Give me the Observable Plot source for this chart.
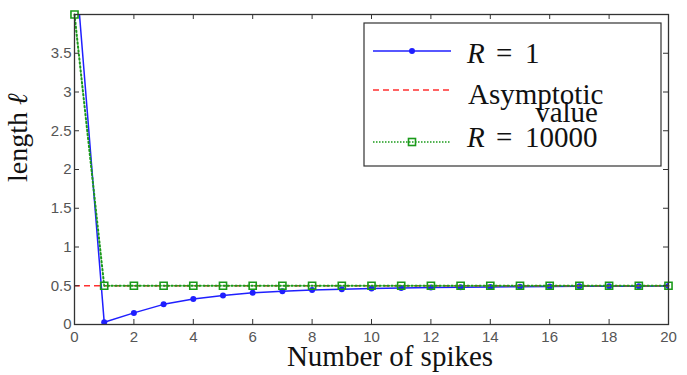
<!DOCTYPE html>
<html><head><meta charset="utf-8">
<script src="https://cdn.jsdelivr.net/npm/d3@7"></script>
<script src="https://cdn.jsdelivr.net/npm/@observablehq/plot@0.6"></script>
<style>
body{margin:0;background:#fff}
#wrap{position:relative;width:687px;height:375px}
</style></head><body><div id="wrap"></div>
<script>
// ---- data ----
const spikes = [0,1,2,3,4,5,6,7,8,9,10,11,12,13,14,15,16,17,18,19,20];
const lengthR1 = [4.8,0.03,0.15,0.26,0.33,0.375,0.41,0.43,0.445,0.455,0.465,0.472,0.478,0.482,0.485,0.488,0.49,0.492,0.494,0.495,0.496];
const lengthR10000 = [4,0.5,0.5,0.5,0.5,0.5,0.5,0.5,0.5,0.5,0.5,0.5,0.5,0.5,0.5,0.5,0.5,0.5,0.5,0.5,0.5];
const asymptote = [0.5];
const xTicks = [0,2,4,6,8,10,12,14,16,18,20];
const yTicks = [0,0.5,1,1.5,2,2.5,3,3.5];
const yTickMarks = [0,0.5,1,1.5,2,2.5,3,3.5,4];

// ---- layout ----
const W = 687, H = 375, mL = 74, mR = 19, mT = 14, mB = 51;
const innerW = W - mL - mR, innerH = H - mT - mB;
const blue = "#1f1fff", red = "#ff3030", green = "#1a9a1a";

const r1 = spikes.map((x, i) => ({x, y: lengthR1[i]}));
const r2 = spikes.map((x, i) => ({x, y: lengthR10000[i]}));
const fmt = d => String(d);

const plot = Plot.plot({
  width: W, height: H,
  marginLeft: mL, marginRight: mR, marginTop: mT, marginBottom: mB,
  x: {domain: [0, 20]},
  y: {domain: [0, 4]},
  style: {fontFamily: "'Liberation Sans', Arial, sans-serif", fontSize: "15px", color: "#555", background: "#fff"},
  marks: [
    Plot.line(r1, {x: "x", y: "y", stroke: blue, strokeWidth: 1.5, clip: true}),
    Plot.dot(r1, {x: "x", y: "y", r: 3, fill: blue, clip: true}),
    Plot.ruleY(asymptote, {stroke: red, strokeWidth: 1.3, strokeDasharray: "6,4"}),
    Plot.line(r2, {x: "x", y: "y", stroke: green, strokeWidth: 2, strokeDasharray: "1.5,2.5"}),
    Plot.dot(r2, {x: "x", y: "y", symbol: "square", r: 4, stroke: green, strokeWidth: 1.6, fill: "none"}),
    Plot.tickX(xTicks, {x: d => d, insetTop: innerH - 5, stroke: "#333"}),
    Plot.tickX(xTicks, {x: d => d, insetBottom: innerH - 5, stroke: "#333"}),
    Plot.tickY(yTickMarks, {y: d => d, insetRight: innerW - 5, stroke: "#333"}),
    Plot.tickY(yTickMarks, {y: d => d, insetLeft: innerW - 5, stroke: "#333"}),
    Plot.axisX(xTicks, {tickSize: 0, tickPadding: 7, label: null, fill: "#555", tickFormat: fmt}),
    Plot.axisY(yTicks, {tickSize: 0, tickPadding: 3, label: null, fill: "#555", tickFormat: fmt}),
    Plot.frame({stroke: "#333", strokeWidth: 1.3})
  ]
});
document.getElementById("wrap").appendChild(plot);

// ---- axis labels ----
const svg = d3.select(plot);
const serif = "'Liberation Serif', 'Times New Roman', serif";
svg.append("text")
  .attr("x", 390).attr("y", 366)
  .attr("text-anchor", "middle")
  .attr("font-family", serif).attr("font-size", 29).attr("fill", "#111")
  .text("Number of spikes");
const yl = svg.append("text")
  .attr("transform", "translate(27,182) rotate(-90)")
  .attr("text-anchor", "start")
  .attr("font-family", serif).attr("font-size", 28).attr("fill", "#111");
yl.append("tspan").text("length ");
yl.append("tspan").attr("font-style", "italic").text("ℓ");

// ---- legend ----
const lg = svg.append("g").attr("text-anchor", "start");
lg.append("rect").attr("x", 364).attr("y", 23).attr("width", 297).attr("height", 143)
  .attr("fill", "#fff").attr("stroke", "#333").attr("stroke-width", 1.2);
// R = 1
lg.append("line").attr("x1", 373).attr("x2", 451).attr("y1", 51).attr("y2", 51)
  .attr("stroke", blue).attr("stroke-width", 1.5);
lg.append("circle").attr("cx", 412).attr("cy", 51).attr("r", 3).attr("fill", blue);
// Asymptotic
lg.append("line").attr("x1", 373).attr("x2", 451).attr("y1", 90).attr("y2", 90)
  .attr("stroke", red).attr("stroke-width", 1.3).attr("stroke-dasharray", "6,4");
// R = 10000
lg.append("line").attr("x1", 373).attr("x2", 451).attr("y1", 142).attr("y2", 142)
  .attr("stroke", green).attr("stroke-width", 1.5).attr("stroke-dasharray", "1.5,1.5");
lg.append("rect").attr("x", 408.5).attr("y", 138.5).attr("width", 7).attr("height", 7)
  .attr("fill", "none").attr("stroke", green).attr("stroke-width", 1.6);

function mathLabel(y, num) {
  const t = lg.append("text").attr("y", y).attr("text-anchor", "start")
    .attr("font-family", serif).attr("font-size", 29).attr("fill", "#111");
  t.append("tspan").attr("x", 467).attr("font-style", "italic").text("R");
  t.append("tspan").attr("x", 496).text("=");
  t.append("tspan").attr("x", 525).text(num);
}
mathLabel(63, "1");
lg.append("text").attr("x", 468).attr("y", 104).attr("text-anchor", "start")
  .attr("font-family", serif).attr("font-size", 29).attr("fill", "#111").text("Asymptotic");
lg.append("text").attr("x", 598).attr("y", 122).attr("text-anchor", "end")
  .attr("font-family", serif).attr("font-size", 29).attr("fill", "#111").text("value");
mathLabel(147, "10000");
</script>
</body></html>
